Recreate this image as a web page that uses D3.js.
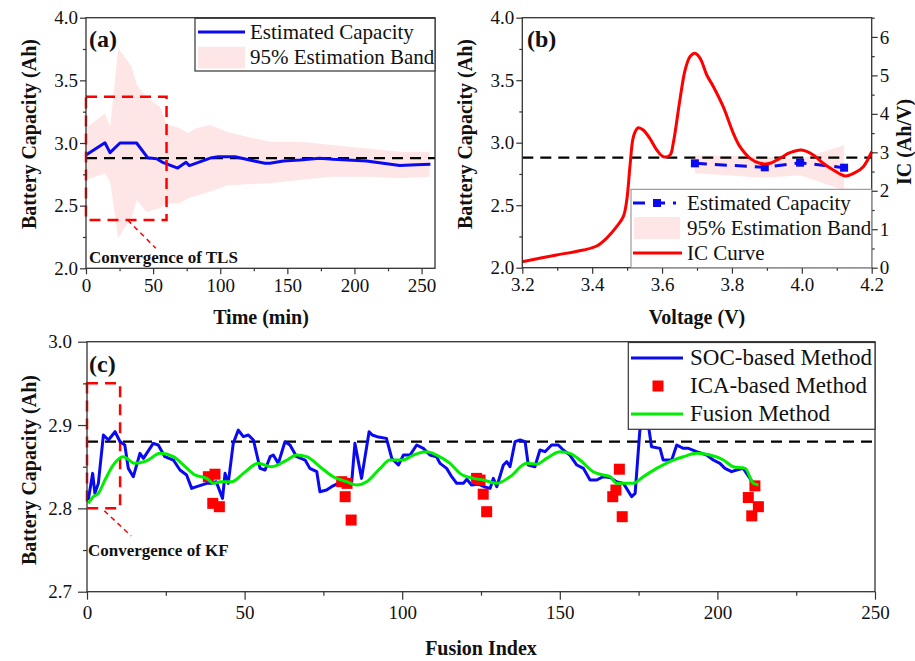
<!DOCTYPE html>
<html>
<head>
<meta charset="utf-8">
<script src="https://cdn.jsdelivr.net/npm/d3@7"></script>
<style>
  body { margin: 0; background: #fff; }
  svg text { font-family: "Liberation Serif", "Times New Roman", serif; fill: #111; }
</style>
</head>
<body>
<div id="chart"></div>
<script>
// ---------- 数据 ----------
const refCap = 2.88; // 额定容量参考线

// (a) 估计容量随时间
const timeA = [0, 14.1, 17.9, 25.3, 37.7, 45.9, 52.6, 57.6, 68.3, 74.5, 77, 93.6, 98.6, 111, 133.3, 137, 147, 159.4, 174, 184, 209, 233.8, 246, 256.6];
const capA = [2.904, 3.002, 2.923, 3.0, 3.0, 2.883, 2.875, 2.843, 2.80, 2.846, 2.82, 2.883, 2.89, 2.89, 2.838, 2.838, 2.856, 2.864, 2.878, 2.87, 2.856, 2.82, 2.827, 2.83];
// (a) 95% 估计带
const bandTimeA = [0, 14, 18, 24, 34, 38, 45, 55, 60, 70, 76, 82, 92, 105, 120, 137, 159, 184, 209, 234, 256];
const bandUpA = [3.117, 3.237, 3.13, 3.756, 3.61, 3.46, 3.37, 3.29, 3.15, 3.117, 3.077, 3.117, 3.143, 3.09, 3.05, 3.01, 3.01, 2.984, 2.957, 2.93, 2.93];
const bandLoA = [2.705, 2.758, 2.69, 2.24, 2.41, 2.545, 2.45, 2.48, 2.52, 2.52, 2.56, 2.58, 2.61, 2.66, 2.67, 2.678, 2.705, 2.73, 2.73, 2.718, 2.73];

// (b) IC 曲线
const icVolt = [3.2, 3.298, 3.375, 3.413, 3.441, 3.47, 3.489, 3.499, 3.508, 3.516, 3.523, 3.532, 3.546, 3.565, 3.585, 3.604, 3.623, 3.632, 3.651, 3.666, 3.68, 3.694, 3.709, 3.728, 3.747, 3.775, 3.804, 3.823, 3.852, 3.88, 3.909, 3.937, 3.966, 3.999, 4.033, 4.061, 4.09, 4.124, 4.152, 4.176, 4.2];
const icVal = [0.156, 0.33, 0.46, 0.564, 0.764, 1.066, 1.326, 1.76, 2.626, 3.32, 3.536, 3.64, 3.58, 3.364, 3.06, 2.886, 2.93, 3.235, 4.36, 5.14, 5.486, 5.574, 5.444, 5.01, 4.706, 4.186, 3.494, 3.146, 2.844, 2.714, 2.714, 2.844, 2.99, 3.06, 2.93, 2.714, 2.54, 2.384, 2.47, 2.626, 3.016];
// (b) 估计容量及估计带
const estVoltB = [3.694, 3.894, 3.995, 4.121];
const estCapB = [2.835, 2.803, 2.84, 2.80];
const bandUpB = [2.90, 2.89, 2.87, 2.98];
const bandLoB = [2.755, 2.72, 2.74, 2.62];

// (c) SOC 方法
const socIdx = [0.4, 1.8, 2.5, 3.6, 5.2, 6.8, 8.9, 10.5, 12, 13.1, 14.7, 16.8, 17.9, 21, 22.6, 24.7, 27.4, 29.5, 31.6, 33.2, 34.8, 38, 39.5, 41, 43, 43.8, 44.8, 46.4, 48, 49.6, 51.2, 52.8, 54.9, 56.5, 58.1, 59.1, 60.7, 62.8, 64.4, 66.5, 69.2, 70.7, 72.9, 73.9, 76, 77.6, 79.7, 82, 84, 85, 87.1, 89.5, 90.5, 92, 95, 96.7, 98.8, 100.4, 102.5, 104.6, 106.7, 108.8, 110.9, 112, 114.1, 115.7, 117.3, 119.4, 120.5, 122, 124.1, 126, 127.9, 128.9, 130, 132.1, 133.2, 134.2, 135.8, 137.4, 139, 140, 142.1, 143.7, 145.3, 147.4, 149.5, 151.1, 153.2, 155.4, 157.5, 159.6, 161.7, 163.8, 166, 168, 170.2, 172.8, 173.9, 175.4, 176.5, 178.1, 179.1, 181.8, 182.8, 185.5, 187.1, 189.2, 190.8, 193.4, 196.6, 198.7, 200.8, 202.4, 204.5, 206.1, 208.2, 211.4, 213];
const socCap = [2.810, 2.842, 2.818, 2.830, 2.888, 2.882, 2.892, 2.880, 2.876, 2.848, 2.838, 2.866, 2.860, 2.878, 2.876, 2.862, 2.858, 2.846, 2.840, 2.824, 2.826, 2.830, 2.830, 2.832, 2.812, 2.842, 2.830, 2.878, 2.894, 2.886, 2.888, 2.882, 2.848, 2.846, 2.862, 2.864, 2.854, 2.880, 2.876, 2.862, 2.858, 2.848, 2.844, 2.820, 2.822, 2.826, 2.830, 2.830, 2.832, 2.878, 2.836, 2.892, 2.888, 2.886, 2.884, 2.860, 2.852, 2.864, 2.864, 2.876, 2.872, 2.864, 2.862, 2.854, 2.848, 2.838, 2.830, 2.830, 2.835, 2.828, 2.829, 2.826, 2.824, 2.836, 2.826, 2.852, 2.856, 2.850, 2.880, 2.882, 2.880, 2.852, 2.850, 2.870, 2.868, 2.876, 2.876, 2.870, 2.864, 2.852, 2.848, 2.834, 2.834, 2.838, 2.837, 2.832, 2.830, 2.814, 2.818, 2.894, 2.900, 2.900, 2.874, 2.872, 2.858, 2.858, 2.876, 2.872, 2.872, 2.868, 2.864, 2.858, 2.854, 2.848, 2.844, 2.846, 2.848, 2.830, 2.828];
// (c) ICA 方法
const icaIdx = [38.5, 40.6, 39.9, 42, 80.8, 82.5, 81.9, 83.8, 123.6, 124.7, 125.7, 126.8, 168.9, 167.8, 166.8, 169.8, 211.9, 209.8, 213, 210.9];
const icaCap = [2.838, 2.841, 2.806, 2.802, 2.832, 2.83, 2.814, 2.786, 2.836, 2.834, 2.817, 2.796, 2.847, 2.822, 2.814, 2.79, 2.827, 2.813, 2.802, 2.791];
// (c) 融合方法
const fusIdx = [0.4, 2, 3.6, 5.7, 8.3, 11.5, 15.2, 18.9, 23.2, 27.4, 30.6, 34.3, 38, 40.1, 42.2, 45.9, 49.6, 54.3, 58.6, 63.4, 66.5, 69.7, 73.9, 78.1, 82.4, 85.6, 88.7, 93, 96.1, 100.3, 103.5, 107.8, 110.9, 115.2, 118.3, 122.6, 125.7, 130, 134.2, 139.5, 142.7, 145.8, 150.1, 153.2, 156.4, 160.6, 163.8, 166, 168, 173.3, 176.5, 180.7, 186, 189.2, 193.4, 197.7, 201.9, 205, 208.8, 211.4, 213];
const fusCap = [2.806, 2.814, 2.818, 2.834, 2.852, 2.862, 2.854, 2.857, 2.866, 2.862, 2.852, 2.840, 2.836, 2.830, 2.832, 2.832, 2.842, 2.854, 2.850, 2.858, 2.864, 2.862, 2.850, 2.838, 2.832, 2.828, 2.832, 2.848, 2.858, 2.858, 2.864, 2.868, 2.864, 2.854, 2.842, 2.836, 2.834, 2.830, 2.838, 2.854, 2.853, 2.860, 2.868, 2.866, 2.858, 2.844, 2.840, 2.838, 2.830, 2.830, 2.838, 2.848, 2.858, 2.862, 2.866, 2.864, 2.858, 2.850, 2.848, 2.830, 2.828];

// 刻度
const ticksTimeA = [0, 50, 100, 150, 200, 250];
const ticksCap = [2.0, 2.5, 3.0, 3.5, 4.0];
const ticksVolt = [3.2, 3.4, 3.6, 3.8, 4.0, 4.2];
const ticksIC = [0, 1, 2, 3, 4, 5, 6];
const ticksIdx = [0, 50, 100, 150, 200, 250];
const ticksCapC = [2.7, 2.8, 2.9, 3.0];

// ---------- 颜色 / 字体 ----------
const BLUE = '#0a0af0', RED = '#ff0000', GREEN = '#00ee00', PINK = '#ffe6e6', AXIS = '#333';
const SERIF = '"Liberation Serif", "Times New Roman", serif';

const svg = d3.select('#chart').append('svg')
  .attr('width', 915).attr('height', 661)
  .style('background', '#fff');

// 坐标轴：主刻度 + 次刻度
function axis(gen, scale, tr, major, minor, o) {
  const gm = svg.append('g').attr('transform', tr)
    .call(gen(scale).tickValues(minor).tickSize(o.minor || 3).tickFormat(''));
  const g = svg.append('g').attr('transform', tr)
    .call(gen(scale).tickValues(major).tickSize(o.major || 6).tickPadding(o.pad || 3).tickFormat(o.fmt));
  [gm, g].forEach(s => {
    s.select('.domain').remove();
    s.selectAll('line').attr('stroke', AXIS).attr('stroke-width', 1.2);
  });
  g.selectAll('text').attr('font-size', o.size || 19)
    .style('font-family', SERIF).attr('fill', '#111');
  return g;
}

function frame(x, y) {
  svg.append('rect')
    .attr('x', x.range()[0]).attr('y', y.range()[1])
    .attr('width', x.range()[1] - x.range()[0])
    .attr('height', y.range()[0] - y.range()[1])
    .attr('fill', 'none').attr('stroke', AXIS).attr('stroke-width', 1.3);
}

function refLine(x, y) {
  svg.append('line')
    .attr('x1', x.range()[0]).attr('x2', x.range()[1])
    .attr('y1', y(refCap)).attr('y2', y(refCap))
    .attr('stroke', '#000').attr('stroke-width', 2.3).attr('stroke-dasharray', '11,7');
}

function text(str, x, y, size, bold, rot, anchor) {
  const t = svg.append('text').attr('x', x).attr('y', y)
    .attr('font-size', size).attr('font-weight', bold ? 'bold' : 'normal')
    .attr('text-anchor', anchor || 'start').text(str);
  if (rot) t.attr('transform', 'rotate(-90 ' + x + ' ' + y + ')');
  return t;
}

const f1 = d3.format('.1f');

// ================= (a) =================
const xA = d3.scaleLinear().domain([0, 260]).range([86, 435]);
const yA = d3.scaleLinear().domain([2, 4]).range([268.3, 17.7]);

const bandA = bandTimeA.map((t, i) => ({ t, lo: bandLoA[i], up: bandUpA[i] }));
svg.append('path').datum(bandA)
  .attr('fill', PINK)
  .attr('d', d3.area().x(d => xA(d.t)).y0(d => yA(d.lo)).y1(d => yA(d.up)));

refLine(xA, yA);

svg.append('path').datum(timeA.map((t, i) => [t, capA[i]]))
  .attr('fill', 'none').attr('stroke', BLUE).attr('stroke-width', 3)
  .attr('stroke-linejoin', 'round')
  .attr('d', d3.line().x(d => xA(d[0])).y(d => yA(d[1])));

// TLS 收敛框
svg.append('rect')
  .attr('x', xA(0)).attr('y', yA(3.37))
  .attr('width', xA(60) - xA(0)).attr('height', yA(2.385) - yA(3.37))
  .attr('fill', 'none').attr('stroke', RED).attr('stroke-width', 2.5).attr('stroke-dasharray', '11,7');
svg.append('line')
  .attr('x1', xA(31)).attr('y1', yA(2.385)).attr('x2', xA(52)).attr('y2', yA(2.16))
  .attr('stroke', RED).attr('stroke-width', 1.5).attr('stroke-dasharray', '5,4');
text('Convergence of TLS', 89, 263, 17, true);

frame(xA, yA);
axis(d3.axisBottom, xA, 'translate(0,268.3)', ticksTimeA, d3.range(25, 250, 50), { pad: 4, fmt: d3.format('d') });
axis(d3.axisLeft, yA, 'translate(86,0)', ticksCap, [2.25, 2.75, 3.25, 3.75], { pad: 2, fmt: f1 });
text('(a)', 89, 47, 24, true);

// 图例 (a)
svg.append('rect').attr('x', 195).attr('y', 18.3).attr('width', 240).attr('height', 52.7)
  .attr('fill', '#fff').attr('stroke', AXIS).attr('stroke-width', 1.2);
svg.append('line').attr('x1', 198).attr('x2', 245).attr('y1', 32).attr('y2', 32)
  .attr('stroke', BLUE).attr('stroke-width', 3);
text('Estimated Capacity', 250, 39, 21);
svg.append('rect').attr('x', 198).attr('y', 46.7).attr('width', 47).attr('height', 21.6).attr('fill', PINK);
text('95% Estimation Band', 250, 64, 21);

text('Battery Capacity (Ah)', 36, 134, 20, true, true, 'middle');
text('Time (min)', 261, 324, 20, true, false, 'middle');

// ================= (b) =================
const xB = d3.scaleLinear().domain([3.2, 4.2]).range([522.3, 871.7]);
const yB = d3.scaleLinear().domain([2, 4]).range([267.7, 17.7]);
const yBR = d3.scaleLinear().domain([0, 6.5]).range([267.7, 17.7]);

svg.append('path').datum(estVoltB.map((v, i) => ({ v, lo: bandLoB[i], up: bandUpB[i] })))
  .attr('fill', PINK)
  .attr('d', d3.area().x(d => xB(d.v)).y0(d => yB(d.lo)).y1(d => yB(d.up)));

refLine(xB, yB);

svg.append('path').datum(estVoltB.map((v, i) => [v, estCapB[i]]))
  .attr('fill', 'none').attr('stroke', BLUE).attr('stroke-width', 3).attr('stroke-dasharray', '12,8')
  .attr('d', d3.line().x(d => xB(d[0])).y(d => yB(d[1])));
svg.selectAll('rect.estB').data(estVoltB).enter().append('rect').attr('class', 'estB')
  .attr('x', (d) => xB(d) - 4).attr('y', (d, i) => yB(estCapB[i]) - 4)
  .attr('width', 8).attr('height', 8).attr('fill', BLUE);

svg.append('path').datum(icVolt.map((v, i) => [v, icVal[i]]))
  .attr('fill', 'none').attr('stroke', RED).attr('stroke-width', 3)
  .attr('stroke-linejoin', 'round')
  .attr('d', d3.line().curve(d3.curveCatmullRom).x(d => xB(d[0])).y(d => yBR(d[1])));

frame(xB, yB);
axis(d3.axisBottom, xB, 'translate(0,267.7)', ticksVolt, [3.3, 3.5, 3.7, 3.9, 4.1], { pad: 4, fmt: f1 });
axis(d3.axisLeft, yB, 'translate(522.3,0)', ticksCap, [2.25, 2.75, 3.25, 3.75], { pad: 2, fmt: f1 });
axis(d3.axisRight, yBR, 'translate(871.7,0)', ticksIC, [0.5, 1.5, 2.5, 3.5, 4.5, 5.5, 6.5], { pad: 2, fmt: d3.format('d') });
text('(b)', 527, 47, 24, true);

// 图例 (b)
svg.append('rect').attr('x', 631).attr('y', 189.3).attr('width', 240.7).attr('height', 78.4)
  .attr('fill', '#fff').attr('stroke', '#888').attr('stroke-width', 1);
svg.append('line').attr('x1', 633).attr('x2', 676).attr('y1', 203).attr('y2', 203)
  .attr('stroke', BLUE).attr('stroke-width', 3).attr('stroke-dasharray', '12,8');
svg.append('rect').attr('x', 653).attr('y', 199).attr('width', 8).attr('height', 8).attr('fill', BLUE);
text('Estimated Capacity', 687, 210, 21);
svg.append('rect').attr('x', 634).attr('y', 217).attr('width', 46).attr('height', 22).attr('fill', PINK);
text('95% Estimation Band', 687, 235, 21);
svg.append('line').attr('x1', 633).attr('x2', 682).attr('y1', 253).attr('y2', 253)
  .attr('stroke', RED).attr('stroke-width', 3);
text('IC Curve', 687, 260, 21);

text('Battery Capacity (Ah)', 472, 134, 20, true, true, 'middle');
text('IC (Ah/V)', 911, 142, 20, true, true, 'middle');
text('Voltage (V)', 697, 324, 20, true, false, 'middle');

// ================= (c) =================
const xC = d3.scaleLinear().domain([0, 250]).range([87, 875]);
const yC = d3.scaleLinear().domain([2.7, 3.0]).range([591.7, 341.7]);

refLine(xC, yC);

// KF 收敛框
svg.append('rect')
  .attr('x', xC(0)).attr('y', yC(2.95))
  .attr('width', xC(10.5) - xC(0)).attr('height', yC(2.80) - yC(2.95))
  .attr('fill', 'none').attr('stroke', RED).attr('stroke-width', 2.5).attr('stroke-dasharray', '11,7');
svg.append('line')
  .attr('x1', xC(5.5)).attr('y1', yC(2.797)).attr('x2', xC(14)).attr('y2', yC(2.767))
  .attr('stroke', RED).attr('stroke-width', 1.5).attr('stroke-dasharray', '5,4');

svg.append('path').datum(socIdx.map((v, i) => [v, socCap[i]]))
  .attr('fill', 'none').attr('stroke', BLUE).attr('stroke-width', 3)
  .attr('stroke-linejoin', 'round')
  .attr('d', d3.line().x(d => xC(d[0])).y(d => yC(d[1])));

svg.selectAll('rect.ica').data(icaIdx).enter().append('rect').attr('class', 'ica')
  .attr('x', d => xC(d) - 5.5).attr('y', (d, i) => yC(icaCap[i]) - 5.5)
  .attr('width', 11).attr('height', 11).attr('fill', RED);

svg.append('path').datum(fusIdx.map((v, i) => [v, fusCap[i]]))
  .attr('fill', 'none').attr('stroke', GREEN).attr('stroke-width', 3)
  .attr('stroke-linejoin', 'round')
  .attr('d', d3.line().curve(d3.curveMonotoneX).x(d => xC(d[0])).y(d => yC(d[1])));

text('Convergence of KF', 88, 556, 17, true);

frame(xC, yC);
axis(d3.axisBottom, xC, 'translate(0,591.7)', ticksIdx, d3.range(25, 250, 50), { major: 8, minor: 4, pad: 6, fmt: d3.format('d') });
axis(d3.axisLeft, yC, 'translate(87,0)', ticksCapC, [2.75, 2.85, 2.95], { major: 9, minor: 4, pad: 6, fmt: f1 });
text('(c)', 89, 372, 24, true);

// 图例 (c)
svg.append('rect').attr('x', 628.3).attr('y', 342.5).attr('width', 246.7).attr('height', 86.8)
  .attr('fill', '#fff').attr('stroke', AXIS).attr('stroke-width', 1.2);
svg.append('line').attr('x1', 631).attr('x2', 683).attr('y1', 358).attr('y2', 358)
  .attr('stroke', BLUE).attr('stroke-width', 3);
text('SOC-based Method', 690, 365, 23);
svg.append('rect').attr('x', 652.5).attr('y', 380.5).attr('width', 11).attr('height', 11).attr('fill', RED);
text('ICA-based Method', 690, 393, 23);
svg.append('line').attr('x1', 631).attr('x2', 683).attr('y1', 414).attr('y2', 414)
  .attr('stroke', GREEN).attr('stroke-width', 3);
text('Fusion Method', 690, 421, 23);

text('Battery Capacity (Ah)', 36, 470, 20, true, true, 'middle');
text('Fusion Index', 481, 655, 20, true, false, 'middle');
</script>
</body>
</html>
